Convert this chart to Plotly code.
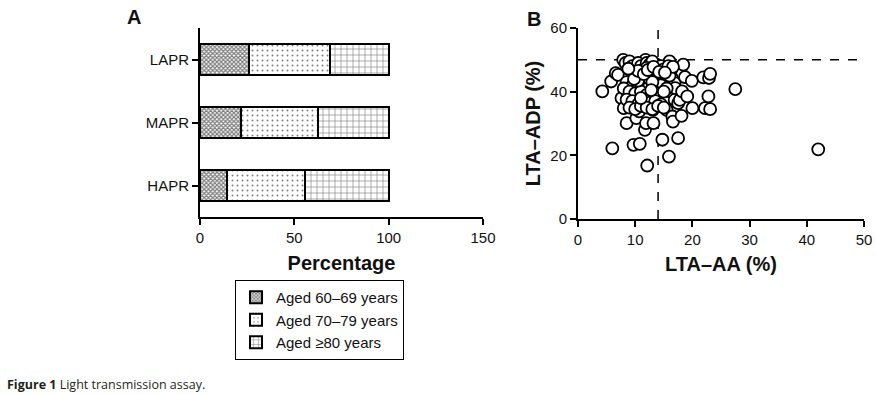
import plotly.graph_objects as go

# Panel A data
groups = ["HAPR", "MAPR", "LAPR"]
age_60_69 = [14.5, 21.5, 26]
age_70_79 = [41, 41, 43]
age_80_up = [44.5, 37.5, 31]
series_names = ["Aged 60–69 years", "Aged 70–79 years", "Aged ≥80 years"]

# Panel B data
lta_aa = [4.25, 6.0, 5.8, 6.6, 7.0, 7.9, 8.3, 7.6, 8.0, 8.5, 8.8, 9.7, 10.8, 10.2, 10.7,
          12.1, 11.7, 11.9, 13.2, 13.1, 11.8, 10.1, 9.0, 9.3, 10.8, 13.7, 14.6, 14.75,
          15.2, 15.5, 15.9, 16.0, 16.3, 16.4, 16.0, 16.5, 16.6, 16.9, 17.0, 16.9, 17.5,
          17.5, 17.8, 18.2, 18.1, 18.4, 18.7, 19.1, 19.9, 20.0, 21.9, 22.2, 22.9, 23.1,
          22.8, 23.1, 27.5, 42.0,
          9, 9.5, 10, 10.5, 11, 11.5, 12, 12.5, 13, 13.5, 14.5, 15, 9, 10, 11, 12, 13,
          13.8, 14.8, 15.5, 8.5, 9.5, 10.5, 11.5, 12.5, 13.5, 14.5, 15.5, 8, 9, 10, 11,
          12, 13, 14, 15, 8.5, 9.5, 10.5, 11.5, 12.5, 13.5, 14.5, 9, 10, 11, 12, 13, 14,
          15, 11, 12.5, 10.5, 14, 12, 13, 16, 15.8, 12.8, 11.2, 9.8,
          10.5, 11.5, 12.2, 13.2, 14.2, 8.8, 16.6, 15.2]
lta_adp = [40.1, 22.2, 43.2, 45.8, 45.3, 50, 49, 38, 34.8, 30.1, 39, 23.3, 23.6, 31.7, 33.8,
           16.8, 28, 30.1, 30.1, 34.3, 50, 48.5, 46.9, 43.7, 42.7, 48.5, 45.8, 24.9,
           37.4, 34.3, 19.6, 49.5, 46.9, 44.3, 40.1, 32.2, 30.6, 42.7, 41.1, 37.4, 25.4,
           36.4, 37.4, 40.1, 32.4, 48.5, 44.6, 38.5, 43.4, 34.8, 44.5, 34.8, 44.3, 45.6,
           38.5, 34.5, 40.8, 21.9,
           49.5, 48, 47, 49, 48, 47, 49, 48.5, 49.5, 47.5, 48, 47, 45, 45.5, 44.5, 45, 46,
           44, 44.5, 45, 43, 42, 41, 42.5, 42, 41.5, 42, 41, 41, 40, 39.5, 40,
           39, 40, 39.5, 40, 37.5, 37, 36, 37.5, 36.5, 37, 36, 35, 34.5, 35.5, 35, 34.5, 35.5,
           35, 38, 44, 43.5, 46, 47.5, 43, 45, 48, 40.5, 46, 44,
           46.5, 45.5, 46.8, 47.8, 46.2, 47.2, 47.8, 46.0]
aa_cut = 14
adp_cut = 50

W, H = 876, 394
FONT = "Liberation Sans, Arial, sans-serif"

fig = go.Figure()

patterns = [dict(shape="x", size=3, solidity=0.65),
            dict(shape=".", size=5, solidity=0.12),
            dict(shape="+", size=6, solidity=0.2)]
for name, vals, pat in zip(series_names, [age_60_69, age_70_79, age_80_up], patterns):
    fig.add_trace(go.Bar(
        y=groups, x=vals, name=name, orientation="h", width=0.5,
        marker=dict(color="white", line=dict(color="black", width=2),
                    pattern=dict(fgcolor="black", bgcolor="white", **pat)),
        xaxis="x", yaxis="y"))

fig.add_trace(go.Scatter(
    x=lta_aa, y=lta_adp, mode="markers", showlegend=False,
    marker=dict(size=12, color="white", line=dict(color="black", width=1.8)),
    xaxis="x2", yaxis="y2"))

axis_common = dict(showline=True, linecolor="black", linewidth=2, ticks="outside",
                   ticklen=6, tickwidth=2, tickcolor="black", showgrid=False,
                   zeroline=False, automargin=False,
                   tickfont=dict(family=FONT, size=15, color="#111"))

fig.update_layout(
    width=W, height=H, margin=dict(l=0, r=0, t=0, b=0, autoexpand=False),
    paper_bgcolor="white", plot_bgcolor="white", barmode="stack",
    xaxis=dict(domain=[200 / W, 483 / W], range=[0, 150], tickvals=[0, 50, 100, 150],
               anchor="y", title=dict(text="<b>Percentage</b>",
                                      font=dict(family=FONT, size=20, color="#111"),
                                      standoff=11), **axis_common),
    yaxis=dict(domain=[1 - 217 / H, 1 - 28 / H], range=[-0.5, 2.5], anchor="x",
               type="category", categoryorder="array", categoryarray=groups,
               **axis_common),
    xaxis2=dict(domain=[578 / W, 864 / W], range=[0, 50], tickvals=[0, 10, 20, 30, 40, 50],
                anchor="y2", title=dict(text="<b>LTA–AA (%)</b>",
                                        font=dict(family=FONT, size=20, color="#111"),
                                        standoff=10), **axis_common),
    yaxis2=dict(domain=[1 - 219 / H, 1 - 28 / H], range=[0, 60], tickvals=[0, 20, 40, 60],
                anchor="x2", title=dict(text="<b>LTA–ADP (%)</b>",
                                        font=dict(family=FONT, size=20, color="#111"),
                                        standoff=4), **axis_common),
    legend=dict(x=235 / W, y=1 - 280 / H, xanchor="left", yanchor="top",
                bordercolor="black", borderwidth=1, bgcolor="white",
                font=dict(family=FONT, size=15, color="#111"), traceorder="normal",
                itemclick=False),
    showlegend=True,
)

fig.add_shape(type="line", xref="x2", yref="y2", x0=aa_cut, x1=aa_cut, y0=0, y1=60,
              line=dict(color="black", width=1.5, dash="dash"), layer="below")
fig.add_shape(type="line", xref="x2", yref="y2", x0=0, x1=50, y0=adp_cut, y1=adp_cut,
              line=dict(color="black", width=1.5, dash="dash"), layer="below")

fig.add_annotation(text="<b>A</b>", xref="paper", yref="paper", x=125 / W, y=1 - 4 / H,
                   xanchor="left", yanchor="top", showarrow=False,
                   font=dict(family=FONT, size=20, color="#111"))
fig.add_annotation(text="<b>B</b>", xref="paper", yref="paper", x=525 / W, y=1 - 6 / H,
                   xanchor="left", yanchor="top", showarrow=False,
                   font=dict(family=FONT, size=20, color="#111"))
fig.add_annotation(text="<b>Figure 1</b> Light transmission assay.", xref="paper",
                   yref="paper", x=5 / W, y=1 - 384 / H, xanchor="left", yanchor="middle",
                   showarrow=False, font=dict(family="Open Sans, sans-serif", size=12.5,
                                              color="#231f20"))

fig.write_html("out.html", config={"displayModeBar": False},
               post_script="document.body.style.margin='0';")
